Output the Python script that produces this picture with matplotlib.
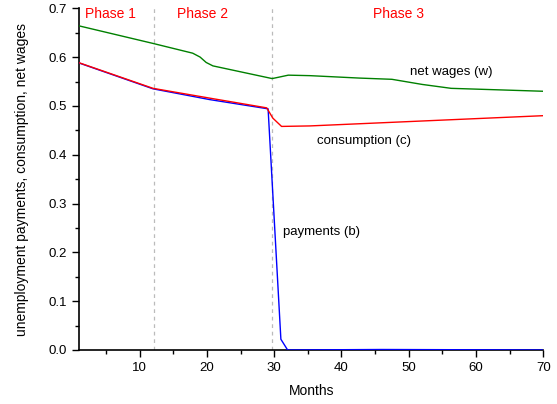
import matplotlib.pyplot as plt
from matplotlib.ticker import MultipleLocator

plt.rcParams['font.family'] = ['Liberation Sans', 'DejaVu Sans']

# net wages (w)
w_months = [1, 12, 17.9, 19.0, 19.9, 20.9, 29.7, 30.4, 32.1, 35.3, 42.7, 47.5, 52, 56.3, 70]
w_vals = [0.664, 0.628, 0.608, 0.600, 0.589, 0.582, 0.556, 0.558, 0.563, 0.562, 0.557, 0.5545, 0.544, 0.536, 0.530]

# consumption (c)
c_months = [1, 12, 20.4, 28.9, 29.8, 31.1, 35.3, 70]
c_vals = [0.5885, 0.536, 0.516, 0.496, 0.475, 0.458, 0.459, 0.480]

# payments (b)
b_months = [1, 12, 20.4, 29.1, 31.0, 32.0, 46, 70]
b_vals = [0.588, 0.535, 0.513, 0.494, 0.022, 0.0, 0.001, 0.0]

phase_bounds = [12.1, 29.75]
phase_labels = ['Phase 1', 'Phase 2', 'Phase 3']
phase_x = [5.6, 19.4, 48.5]

fig = plt.figure(figsize=(5.57, 4.04), dpi=100)
ax = fig.add_axes([0.1418, 0.1337, 0.8337, 0.8458])

for xb in phase_bounds:
    ax.axvline(xb, color='#bbbbbb', linestyle=(0, (3, 3)), linewidth=0.9, zorder=1)

ax.plot(w_months, w_vals, color='#008000', linewidth=1.0, zorder=3)
ax.plot(b_months, b_vals, color='#0000ff', linewidth=1.0, zorder=3)
ax.plot(c_months, c_vals, color='#ff0000', linewidth=1.0, zorder=4)

for lbl, px in zip(phase_labels, phase_x):
    ax.text(px, 0.689, lbl, color='red', fontsize=10, ha='center', va='center')

ax.text(56.3, 0.570, 'net wages (w)', fontsize=9.5, ha='center', va='center')
ax.text(43.3, 0.428, 'consumption (c)', fontsize=9.5, ha='center', va='center')
ax.text(37.0, 0.241, 'payments (b)', fontsize=9.5, ha='center', va='center')

ax.set_xlim(1, 70)
ax.set_ylim(0, 0.7)
ax.xaxis.set_major_locator(MultipleLocator(10))
ax.xaxis.set_minor_locator(MultipleLocator(5))
ax.yaxis.set_major_locator(MultipleLocator(0.1))
ax.yaxis.set_minor_locator(MultipleLocator(0.05))
ax.yaxis.set_major_formatter(plt.FormatStrFormatter('%.1f'))
ax.tick_params(which='major', direction='out', length=5, width=1, labelsize=9.5)
ax.tick_params(which='minor', direction='out', length=3, width=1)
for s in ['top', 'right']:
    ax.spines[s].set_visible(False)
for s in ['left', 'bottom']:
    ax.spines[s].set_linewidth(1.2)

ax.set_xlabel('Months', fontsize=10, labelpad=7)
ax.set_ylabel('unemployment payments, consumption, net wages', fontsize=10, labelpad=14)

fig.savefig('out.png', dpi=100)
